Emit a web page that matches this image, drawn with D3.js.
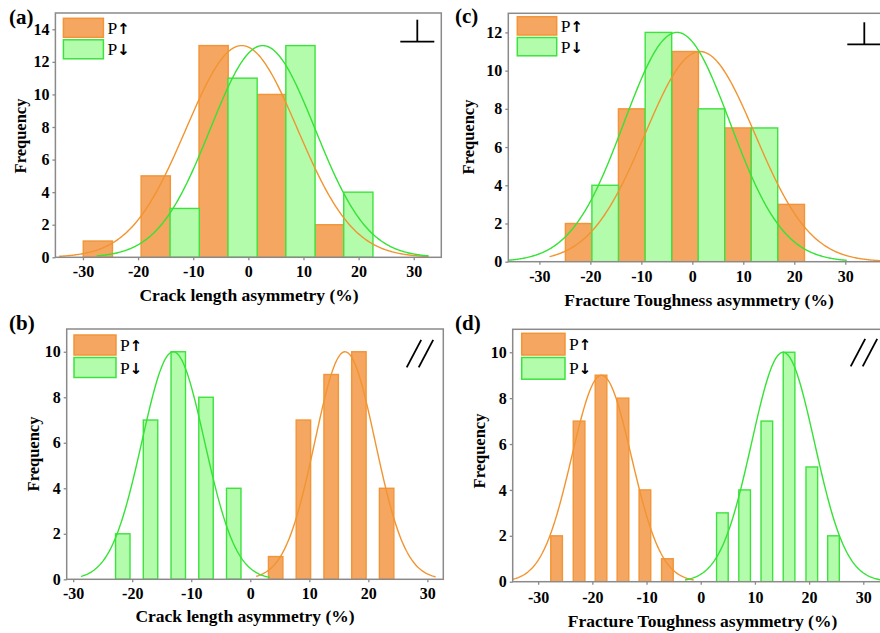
<!DOCTYPE html>
<html>
<head>
<meta charset="utf-8">
<script src="https://cdn.jsdelivr.net/npm/d3@7/dist/d3.min.js"></script>
<style>
    body { margin: 0; background: #fff; }
    text { font-family: "Liberation Serif", "Times New Roman", serif; }
</style>
</head>
<body>
<svg id="chart" width="880" height="633"></svg>
<script>
// tick labels
var xTicks = [-30, -20, -10, 0, 10, 20, 30];
var yTicksA = [0, 2, 4, 6, 8, 10, 12, 14];
var yTicksC = [0, 2, 4, 6, 8, 10, 12];
var yTicksBD = [0, 2, 4, 6, 8, 10];

// (a) crack length asymmetry, perpendicular
var aUpBins = [-27.3, -16.8, -6.3, 4.2, 14.7];
var aUpCounts = [1, 5, 13, 10, 2];
var aDownBins = [-11.55, -1.05, 9.45, 19.95];
var aDownCounts = [3, 11, 13, 4];
var aUpFit = [-1.2, 10.1, 13];      // mean, sd, peak
var aDownFit = [2.6, 9.5, 13];

// (b) crack length asymmetry, parallel
var bUpBins = [4.3, 9.0, 13.7, 18.4, 23.1];
var bUpCounts = [1, 7, 9, 10, 4];
var bDownBins = [-21.6, -16.9, -12.2, -7.5, -2.8];
var bDownCounts = [2, 7, 10, 8, 4];
var bUpFit = [16.05, 5.1, 10];
var bDownFit = [-13.05, 5.3, 10];

// (c) fracture toughness asymmetry, perpendicular
var cUpBins = [-22.3, -11.9, -1.4, 8.9, 19.4];
var cUpCounts = [2, 8, 11, 7, 3];
var cDownBins = [-17.1, -6.65, 3.75, 14.15];
var cDownCounts = [4, 12, 8, 7];
var cUpFit = [1.5, 10.8, 11];
var cDownFit = [-3.0, 10.4, 12];

// (d) fracture toughness asymmetry, parallel
var dUpBins = [-26.6, -22.45, -18.4, -14.35, -10.3, -6.15];
var dUpCounts = [2, 7, 9, 8, 4, 1];
var dDownBins = [4.0, 8.1, 12.2, 16.3, 20.5, 24.5];
var dDownCounts = [3, 4, 7, 10, 5, 2];
var dUpFit = [-18.3, 5.5, 9];
var dDownFit = [15.2, 5.8, 10];

var upFill = "#f5a661", upStroke = "#f29538", upLine = "#f29430";
var downFill = "#b2fcac", downStroke = "#3ee23e", downLine = "#35e335";

var svg = d3.select("#chart");
svg.append("rect").attr("width", 880).attr("height", 633).style("fill", "#fff");

function gauss(fit) {
    return function(x) {
        return fit[2] * Math.exp(-(x - fit[0]) * (x - fit[0]) / (2 * fit[1] * fit[1]));
    };
}

function drawPanel(config, id) {
    var g = svg.append("g");
    var x = d3.scaleLinear().domain(config.xDomain).range([config.left, config.right]);
    var y = d3.scaleLinear().domain(config.yDomain).range([config.bottom, config.top]);

    g.append("clipPath").attr("id", "clip" + id)
        .append("rect")
        .attr("x", config.left).attr("y", config.top)
        .attr("width", config.right - config.left)
        .attr("height", config.bottom - config.top);

    var plot = g.append("g").attr("clip-path", "url(#clip" + id + ")");

    // bars
    function bars(bins, counts, fill, stroke) {
        plot.selectAll(null)
            .data(bins)
            .enter()
            .append("rect")
            .attr("x", function(d) { return x(d - config.barWidth / 2); })
            .attr("width", function(d) { return x(d + config.barWidth / 2) - x(d - config.barWidth / 2); })
            .attr("y", function(d, i) { return y(counts[i]); })
            .attr("height", function(d, i) { return y(0) - y(counts[i]); })
            .style("fill", fill)
            .style("stroke", stroke)
            .style("stroke-width", 1.4);
    }
    bars(config.upBins, config.upCounts, upFill, upStroke);
    bars(config.downBins, config.downCounts, downFill, downStroke);

    // fitted curves
    var line = d3.line().x(function(d) { return x(d[0]); }).y(function(d) { return y(d[1]); });
    function curve(fit, range, color) {
        var f = gauss(fit);
        var pts = d3.range(range[0], range[1], 0.2).map(function(v) { return [v, f(v)]; });
        plot.append("path")
            .attr("d", line(pts))
            .style("fill", "none")
            .style("stroke", color)
            .style("stroke-width", 1.4);
    }
    curve(config.upFit, config.upRange, upLine);
    curve(config.downFit, config.downRange, downLine);

    // frame
    g.append("rect")
        .attr("x", config.left).attr("y", config.top)
        .attr("width", config.right - config.left)
        .attr("height", config.bottom - config.top)
        .style("fill", "none")
        .style("stroke", "#8a8a8a")
        .style("stroke-width", 1.5);

    // axes (plain hyphen for negatives)
    var fmt = function(d) { return String(d); };
    var xAxis = g.append("g")
        .attr("transform", "translate(0," + config.bottom + ")")
        .call(d3.axisBottom(x).tickValues(xTicks).tickFormat(fmt).tickSize(3).tickPadding(config.xPad));
    var yAxis = g.append("g")
        .attr("transform", "translate(" + config.left + ",0)")
        .call(d3.axisLeft(y).tickValues(config.yTicks).tickFormat(fmt).tickSize(3).tickPadding(3));
    [xAxis, yAxis].forEach(function(a) {
        a.select(".domain").remove();
        a.selectAll("line").style("stroke", "#8a8a8a").style("stroke-width", 1.3);
        a.selectAll("text")
            .style("font-family", "'Liberation Serif', serif")
            .style("font-weight", "bold")
            .style("font-size", "16px")
            .style("fill", "#000");
    });

    // titles
    g.append("text")
        .attr("x", config.xTitle[1]).attr("y", config.xTitle[2])
        .attr("text-anchor", "middle")
        .style("font-weight", "bold").style("font-size", "17.5px")
        .text(config.xTitle[0]);
    g.append("text")
        .attr("transform", "translate(" + config.yTitle[0] + "," + config.yTitle[1] + ") rotate(-90)")
        .attr("text-anchor", "middle")
        .style("font-weight", "bold").style("font-size", "16.5px")
        .text("Frequency");
    g.append("text")
        .attr("x", config.label[1]).attr("y", config.label[2])
        .style("font-weight", "bold").style("font-size", "21px")
        .text(config.label[0]);

    // legend
    var lx = config.left + config.legend[0], ly = config.top + config.legend[1];
    var bw = config.legend[2], bh = config.legend[3];
    [["P", "\u2191", upFill, upStroke], ["P", "\u2193", downFill, downStroke]].forEach(function(item, i) {
        var yy = ly + i * (bh + 2.5);
        g.append("rect")
            .attr("x", lx).attr("y", yy)
            .attr("width", bw).attr("height", bh)
            .style("fill", item[2]).style("stroke", item[3]).style("stroke-width", 1.5);
        var t = g.append("text")
            .attr("x", lx + bw + 4).attr("y", yy + bh / 2 + 6)
            .style("font-size", "17.5px");
        t.append("tspan").text(item[0]);
        t.append("tspan").style("font-weight", "bold").style("font-family", "'DejaVu Sans', sans-serif").style("font-size", "15px").text(item[1]);
    });

    // orientation mark
    var s = config.symbol;
    var mark = g.append("g").style("stroke", "#000").style("stroke-width", 1.8).style("fill", "none");
    if (s[0] === "perp") {
        mark.append("line").attr("x1", s[1] - 17).attr("x2", s[1] + 17).attr("y1", s[2]).attr("y2", s[2]);
        mark.append("line").attr("x1", s[1]).attr("x2", s[1]).attr("y1", s[2] - 22).attr("y2", s[2]);
    } else {
        mark.append("line").attr("x1", s[1]).attr("y1", s[2]).attr("x2", s[1] + 14.5).attr("y2", s[2] - 27.5);
        mark.append("line").attr("x1", s[1] + 12).attr("y1", s[2]).attr("x2", s[1] + 26.5).attr("y2", s[2] - 27.5);
    }
}

drawPanel({
    left: 55.4, right: 441.3, top: 13, bottom: 257.3,
    xDomain: [-35, 35], yDomain: [0, 15], yTicks: yTicksA, xPad: 5,
    upBins: aUpBins, upCounts: aUpCounts, downBins: aDownBins, downCounts: aDownCounts,
    barWidth: 5.3, upFit: aUpFit, downFit: aDownFit,
    upRange: [-34.3, 32.8], downRange: [-27.5, 32.8],
    xTitle: ["Crack length asymmetry (%)", 249, 301],
    yTitle: [26, 136], label: ["(a)", 9, 24],
    legend: [8, 5.3, 40, 19], symbol: ["perp", 417.3, 41.7]
}, "a");

drawPanel({
    left: 66.7, right: 443.3, top: 329, bottom: 579.3,
    xDomain: [-31.1, 32.7], yDomain: [0, 11], yTicks: yTicksBD, xPad: 5,
    upBins: bUpBins, upCounts: bUpCounts, downBins: bDownBins, downCounts: bDownCounts,
    barWidth: 2.45, upFit: bUpFit, downFit: bDownFit,
    upRange: [1.0, 31.5], downRange: [-28.7, 3.5],
    xTitle: ["Crack length asymmetry (%)", 245, 622],
    yTitle: [39, 454], label: ["(b)", 9, 330],
    legend: [7.3, 6, 42, 20], symbol: ["par", 406.7, 367.3]
}, "b");

drawPanel({
    left: 508.3, right: 884, top: 13.3, bottom: 261.7,
    xDomain: [-36.1, 37.6], yDomain: [0, 13], yTicks: yTicksC, xPad: 6,
    upBins: cUpBins, upCounts: cUpCounts, downBins: cDownBins, downCounts: cDownCounts,
    barWidth: 5.2, upFit: cUpFit, downFit: cDownFit,
    upRange: [-28, 37.6], downRange: [-36.1, 30.5],
    xTitle: ["Fracture Toughness asymmetry (%)", 699, 306],
    yTitle: [474, 137], label: ["(c)", 455, 23],
    legend: [9, 3.4, 39.4, 18.3], symbol: ["perp", 864.3, 44.3]
}, "c");

drawPanel({
    left: 512.7, right: 892, top: 329.3, bottom: 581.7,
    xDomain: [-34.7, 35.3], yDomain: [0, 11], yTicks: yTicksBD, xPad: 7,
    upBins: dUpBins, upCounts: dUpCounts, downBins: dDownBins, downCounts: dDownCounts,
    barWidth: 2.15, upFit: dUpFit, downFit: dDownFit,
    upRange: [-34.7, -1.1], downRange: [-2.9, 35.3],
    xTitle: ["Fracture Toughness asymmetry (%)", 702.5, 627],
    yTitle: [485, 451], label: ["(d)", 455, 330],
    legend: [9, 4, 43.3, 21.7], symbol: ["par", 850.7, 366.3]
}, "d");
</script>
</body>
</html>
